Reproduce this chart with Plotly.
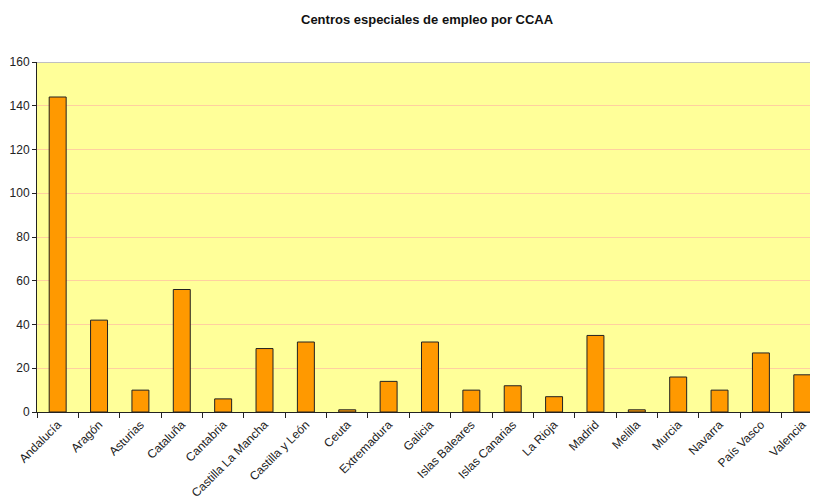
import plotly.graph_objects as go

categories = ["Andalucía", "Aragón", "Asturias", "Cataluña", "Cantabria",
              "Castilla La Mancha", "Castilla y León", "Ceuta", "Extremadura",
              "Galicia", "Islas Baleares", "Islas Canarias", "La Rioja", "Madrid",
              "Melilla", "Murcia", "Navarra", "País Vasco", "Valencia"]
values = [144, 42, 10, 56, 6, 29, 32, 1, 14, 32, 10, 12, 7, 35, 1, 16, 10, 27, 17]
y_ticks = [0, 20, 40, 60, 80, 100, 120, 140, 160]

fig = go.Figure(go.Bar(
    x=categories, y=values,
    marker=dict(color="#FF9900", line=dict(color="#222222", width=1)),
    width=0.41,
))

fig.update_layout(
    width=810, height=490,
    margin=dict(l=29, r=0, t=54, b=86),
    paper_bgcolor="white", plot_bgcolor="#FFFF99",
    font=dict(family="Liberation Sans, Arial", size=12, color="#222"),
    showlegend=False,
    xaxis=dict(
        type="category", categoryorder="array", categoryarray=categories,
        range=[-0.5, 18.38], tickangle=-45, ticks="outside", tickson="boundaries",
        ticklen=5, tickcolor="#222", showline=True, linecolor="#222", linewidth=1,
        showgrid=False, tickfont=dict(size=12), automargin=False,
    ),
    yaxis=dict(
        range=[0, 160], tickvals=y_ticks, ticks="outside", ticklen=4, tickcolor="#222",
        showline=True, linecolor="#222", linewidth=1, gridcolor="#FFD0A0", gridwidth=1,
        zeroline=False, tickfont=dict(size=12), automargin=False,
    ),
    annotations=[dict(text="<b>Centros especiales de empleo por CCAA</b>",
                      xref="paper", yref="paper", x=0.5, y=1 + 42 / 350,
                      xanchor="center", yanchor="middle", showarrow=False,
                      font=dict(size=13, color="#111"))],
    shapes=[dict(type="line", xref="paper", yref="y", x0=0, x1=1, y0=160, y1=160,
                 line=dict(color="#C0C0C0", width=2))],
)

fig.write_html("out.html")
